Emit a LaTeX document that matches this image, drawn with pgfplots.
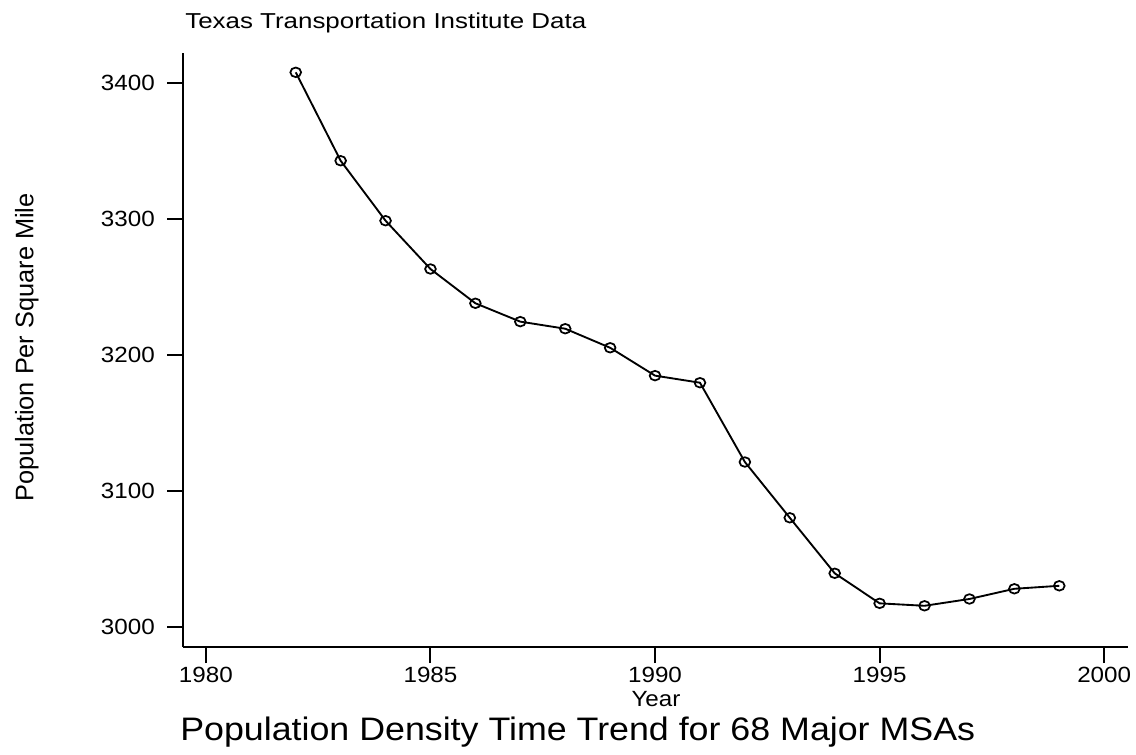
\documentclass[border=0pt]{standalone}
\usepackage{pgfplots}
\pgfplotsset{compat=1.18}
\usepackage{fontspec}
\setmainfont{Liberation Sans}
\newfontfamily\wfont[FakeStretch=1.1]{Liberation Sans}
\newfontfamily\sfont[FakeStretch=1.2]{Liberation Sans}
\begin{document}
\begin{tikzpicture}[x=0.75pt,y=0.75pt]
\useasboundingbox (-183,-107) rectangle (953,647);
\begin{axis}[
  at={(0,0)}, anchor=south west,
  scale only axis,
  width=708.75pt, height=445.7pt,
  xmin=1979.49, xmax=2000.53,
  ymin=2985.1, ymax=3422,
  axis x line=bottom, axis y line=left,
  axis line style={-, line width=1.5pt},
  every tick/.style={black, line width=1.5pt},
  tick align=outside,
  major tick length=12pt,
  xtick={1980,1985,1990,1995,2000},
  ytick={3000,3100,3200,3300,3400},
  /pgf/number format/1000 sep={},
  /pgf/number format/assume math mode=true,
  xticklabel style={font=\wfont\fontsize{16.5pt}{18pt}\selectfont, inner sep=0pt, yshift=-3pt},
  yticklabel style={font=\wfont\fontsize{16.5pt}{18pt}\selectfont, inner sep=0pt, xshift=-9pt},
  clip=false,
]
\addplot[black, line width=1.4pt, mark=o, mark size=3.6pt, mark options={xscale=1.12, line width=1.3pt}] coordinates {
(1982,3407.6) (1983,3342.6) (1984,3298.5) (1985,3263.0) (1986,3237.8)
(1987,3224.3) (1988,3219.1) (1989,3205.1) (1990,3184.6) (1991,3179.4)
(1992,3121.1) (1993,3080.1) (1994,3039.3) (1995,3017.2) (1996,3015.4)
(1997,3020.4) (1998,3027.9) (1999,3030.1)
};
\end{axis}
\node[anchor=base west, inner sep=0pt, font=\sfont\fontsize{16.2pt}{18pt}\selectfont] at (2,618.7) {Texas Transportation Institute Data};
\node[anchor=base west, inner sep=0pt, font=\wfont\fontsize{24.4pt}{28pt}\selectfont] at (-3,-93) {Population Density Time Trend for 68 Major MSAs};
\node[anchor=base, inner sep=0pt, font=\wfont\fontsize{16.5pt}{18pt}\selectfont] at (473,-59) {Year};
\node[anchor=base, rotate=90, inner sep=0pt, font=\fontsize{19pt}{21pt}\selectfont] at (-149.7,299.5) {Population Per Square Mile};
\end{tikzpicture}
\end{document}
